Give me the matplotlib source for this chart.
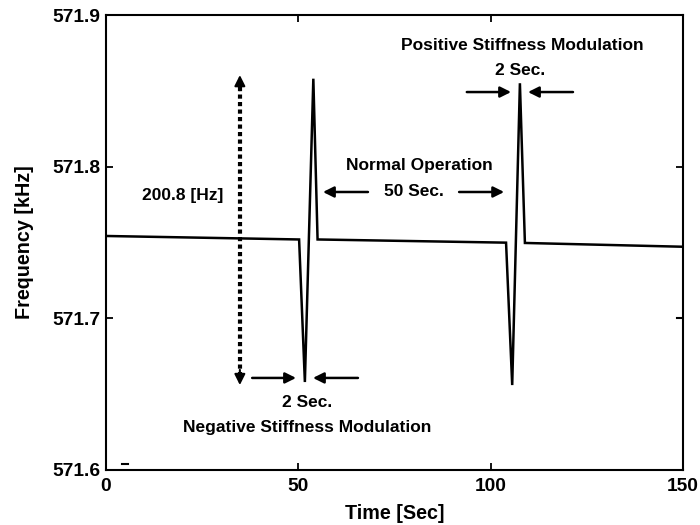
import matplotlib
matplotlib.use("Agg")
import matplotlib.pyplot as plt

plt.rcParams['font.family'] = ['Liberation Sans', 'DejaVu Sans']
plt.rcParams['font.weight'] = 'bold'

# Data
time_s = [0, 50.2, 51.7, 53.9, 55.0, 104.0, 105.6, 107.6, 108.9, 150]
freq_khz = [571.7543, 571.752, 571.658, 571.858, 571.752, 571.7499, 571.656, 571.855, 571.7497, 571.7472]

x_ticks = [0, 50, 100, 150]
y_ticks = [571.6, 571.7, 571.8, 571.9]

# Annotation texts (label, x, y)
texts = [
    ("200.8 [Hz]", 20.0, 571.7807),
    ("Normal Operation", 81.4, 571.8005),
    ("50 Sec.", 80.1, 571.7833),
    ("Positive Stiffness Modulation", 108.1, 571.8802),
    ("2 Sec.", 107.6, 571.8637),
    ("2 Sec.", 52.2, 571.6448),
    ("Negative Stiffness Modulation", 52.2, 571.6277),
]
# Arrows (tail_x, tail_y, tip_x, tip_y)
arrows = [
    (68.1, 571.7833, 56.4, 571.7833),
    (91.8, 571.7833, 103.5, 571.7833),
    (93.8, 571.8492, 105.3, 571.8492),
    (121.4, 571.8492, 109.7, 571.8492),
    (38.0, 571.6607, 49.4, 571.6607),
    (65.5, 571.6607, 53.8, 571.6607),
]
span_x = 34.8
span_top = 571.8604
span_bot = 571.656

# small stray dashes seen in the original figure (x0, x1, y)
stray = [
    (4.2, 5.8, 571.6039),
    (148.4, 150.0, 571.7002),
]

fig = plt.figure(figsize=(7, 5.25), dpi=100)
ax = fig.add_axes([106/700, 1-470/525, 577/700, 455/525])

ax.plot(time_s, freq_khz, color='black', lw=1.8, solid_joinstyle='miter')

for x0, x1, y in stray:
    ax.plot([x0, x1], [y, y], color='black', lw=1.5)

ax.set_xlim(0, 150)
ax.set_ylim(571.6, 571.9)
ax.set_xticks(x_ticks)
ax.set_yticks(y_ticks)
ax.set_xticklabels([str(v) for v in x_ticks])
ax.set_yticklabels([f"{v:.1f}" for v in y_ticks])
ax.tick_params(direction='in', top=True, right=True, length=5, width=1.3,
               labelsize=13.8)
ax.tick_params(axis='x', pad=6)
ax.tick_params(axis='y', pad=4)
for lab in ax.get_xticklabels() + ax.get_yticklabels():
    lab.set_fontweight('bold')
for sp in ax.spines.values():
    sp.set_linewidth(1.5)

ax.set_xlabel("Time [Sec]", fontsize=14.2, fontweight='bold', labelpad=6)
ax.set_ylabel("Frequency [kHz]", fontsize=14.2, fontweight='bold', labelpad=13)

for s, x, y in texts:
    ax.text(x, y, s, ha='center', va='center', fontsize=12.5, fontweight='bold')

for tx, ty, hx, hy in arrows:
    ax.annotate('', xy=(hx, hy), xytext=(tx, ty),
                arrowprops=dict(arrowstyle='-|>', color='black', lw=1.8,
                                mutation_scale=16, shrinkA=0, shrinkB=0))

# dotted double arrow
ax.plot([span_x, span_x], [span_top - 0.008, span_bot + 0.008], color='black',
        lw=3, linestyle=(0, (1, 0.8)))
ax.annotate('', xy=(span_x, span_top), xytext=(span_x, span_top - 0.01),
            arrowprops=dict(arrowstyle='-|>', color='black', lw=1.5,
                            mutation_scale=16, shrinkA=0, shrinkB=0))
ax.annotate('', xy=(span_x, span_bot), xytext=(span_x, span_bot + 0.01),
            arrowprops=dict(arrowstyle='-|>', color='black', lw=1.5,
                            mutation_scale=16, shrinkA=0, shrinkB=0))

fig.savefig("out.png", dpi=100)
